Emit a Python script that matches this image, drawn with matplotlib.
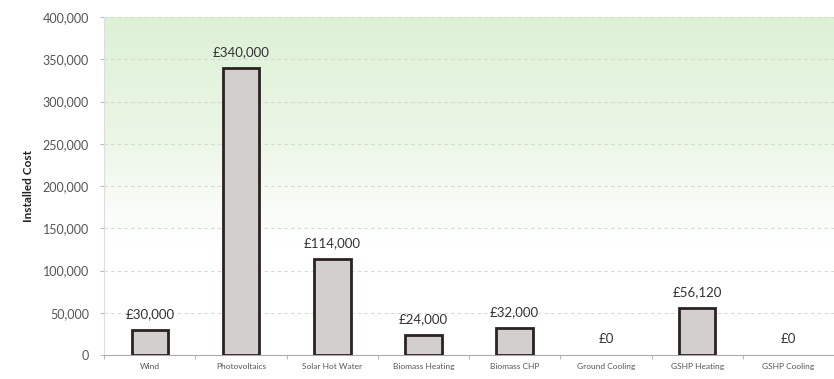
import matplotlib
matplotlib.use("Agg")
import matplotlib.pyplot as plt
import numpy as np
from matplotlib.colors import LinearSegmentedColormap

categories = ["Wind", "Photovoltaics", "Solar Hot Water", "Biomass Heating",
              "Biomass CHP", "Ground Cooling", "GSHP Heating", "GSHP Cooling"]
costs = [30000, 340000, 114000, 24000, 32000, 0, 56120, 0]
labels = ["£30,000", "£340,000", "£114,000", "£24,000", "£32,000", "£0", "£56,120", "£0"]

plt.rcParams['font.family'] = ['Lato', 'DejaVu Sans']

fig = plt.figure(figsize=(8.34, 3.79), dpi=100)
ax = fig.add_axes([0.125, 0.063, 0.875, 0.892])

x = np.arange(len(categories))
ax.set_xlim(-0.5, len(categories) - 0.5)
ax.set_ylim(0, 400000)

# background gradient
cmap = LinearSegmentedColormap.from_list("g", ["#ffffff", "#ffffff", "#eaf6e5", "#ddf1d6"])
grad = np.linspace(0, 1, 256).reshape(-1, 1)
ax.imshow(grad, aspect='auto', cmap=cmap, origin='lower',
          extent=(-0.5, len(categories) - 0.5, 0, 400000), zorder=0)

for yv in range(50000, 400001, 50000):
    ax.axhline(yv, color='#d3dccc', lw=0.8, ls=(0, (3, 3)), zorder=1)

lws = [2 if v > 0 else 0 for v in costs]
ax.bar(x, costs, width=0.4, color='#d3cfcf', edgecolor='#2b2222', linewidth=lws, zorder=3)

for xi, v, lab in zip(x, costs, labels):
    ax.annotate(lab, (xi, v), xytext=(0, 7), textcoords='offset points',
                ha='center', va='bottom', fontsize=9.5, color='#333333')

ax.set_xticks(x)
ax.set_xticklabels(categories, fontsize=6, color='#555555')
ax.set_xticks(np.arange(-0.5, len(categories), 1), minor=True)
ax.tick_params(axis='x', which='major', length=0, pad=6)
ax.tick_params(axis='x', which='minor', length=3, color='#aaaaaa')

yt = list(range(0, 400001, 50000))
ax.set_yticks(yt)
ax.set_yticklabels([f"{v:,}" for v in yt], fontsize=9, color='#555555')
ax.tick_params(axis='y', length=3, color='#bbbbbb', pad=8)

for s in ['top', 'right']:
    ax.spines[s].set_visible(False)
ax.spines['left'].set_color('#dddddd')
ax.spines['bottom'].set_color('#aaaaaa')

ax.set_ylabel("Installed Cost", fontsize=8.5, fontweight='bold', color='#222222', labelpad=6)

fig.savefig("out.png", dpi=100)
